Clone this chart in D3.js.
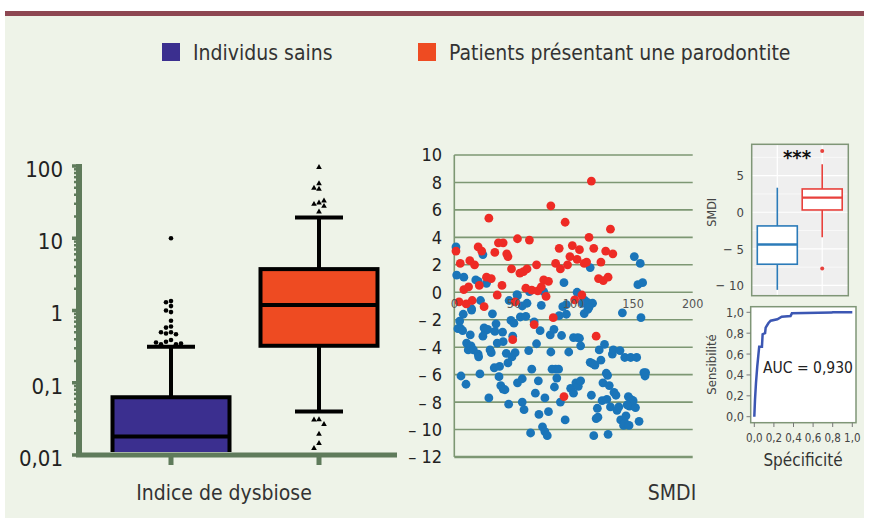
<!DOCTYPE html>
<html>
<head>
<meta charset="utf-8">
<script src="https://cdn.jsdelivr.net/npm/d3@7"></script>
<style>
  body { margin: 0; background: #fff; }
  svg { display: block; }
</style>
</head>
<body>
<div id="graph"></div>
<script>
// ---- data ----
const groups = ["Individus sains", "Patients présentant une parodontite"];
const groupColors = ["#3b2f8f", "#ee4b22"];

// dysbiosis index (log scale) box stats
const dysLow = [0.004, 0.040];
const dysQ1 = [0.004, 0.325];
const dysMedian = [0.018, 1.19];
const dysQ3 = [0.063, 3.74];
const dysHigh = [0.315, 19.4];
const healthyOutliers = [10, 1.35, 1.3, 1.15, 1.0, 0.95, 0.72, 0.6, 0.58, 0.5, 0.48, 0.47, 0.5, 0.39, 0.37, 0.34, 0.34, 0.35, 0.36];
const patientOutliers = [96, 57, 48, 49.5, 31, 29.6, 32.9, 27.8, 23.2, 0.031, 0.0306, 0.0266, 0.0195, 0.0145, 0.0124];
const logTicks = [100, 10, 1, 0.1, 0.01];
const logTickLabels = ["100", "10", "1", "0,1", "0,01"];

// SMDI scatter [x, SMDI]
const healthyPoints = [
  [1.4, 3.3], [2, 1.25], [8, 1.1], [18, 0.9], [20, 0.8], [24, 2.75], [27, 0.65], [92, 0.7], [114, 1.8],
  [151, 2.6], [156, 2.1], [154, 0.55], [158, 0.7], [103, 0], [63, 0.05], [75, 0.05], [53, -0.25],
  [7.5, -1.6], [4.5, -2.1], [5.3, -2.65], [3, -2.65], [7, -2.8], [14.5, -1.2], [14.5, -1.3], [13.4, -3.1],
  [22, -0.6], [10.3, -3.7], [11.7, -4.2], [14, -3.9], [16, -4.2], [20, -4.5], [20.4, -4.7], [5.6, -6.1],
  [9.8, -6.7], [21.5, -5.95], [25, -2.6], [26, -2.8], [28, -2.7], [24, -3.2], [32, -1.57], [30, -4.2],
  [31, -4.4], [35, -2.3], [36, -3.7], [34, -2.85], [40.5, -2.9], [41, -3.6], [33.5, -5.5], [38, -5.4],
  [37.5, -6.15], [39, -6.8], [41, -7.05], [42.5, -7.1], [29, -7.7], [43.6, -4.45], [45, -5.15], [45.6, -8.15],
  [46, -0.6], [47.5, -2.05], [50, -2.25], [49, -3.2], [48.4, -4.7], [51, -4.4], [52.6, -0.17], [55.4, -1.8],
  [57, -1.0], [60, -1.75], [61, -0.8], [53, -6.6], [57, -6.3], [57, -8.0], [58.5, -8.55], [62.4, -4.25],
  [65, -5.6], [64, -10.25], [67, -2.15], [69, -3.75], [70.5, -6.45], [68, -7.35], [72, -2.8], [73, -0.95],
  [71, -8.9], [74, -9.8], [76, -10.15], [78, -10.45], [76, -7.7], [79, -8.7], [80.5, -3.1], [83.6, -2.7],
  [81, -4.35], [82, -5.6], [85, -5.6], [87.5, -5.6], [86, -6.25], [84, -6.9], [89, -8.0], [90, -3.15],
  [91, -1.05], [94, -0.9], [94, -1.6], [88, -1.7], [96, -4.35], [93, -9.3], [97.6, -7.0], [100, -7.35],
  [100, -3.3], [103.5, -3.3], [105, -3.35], [106, -3.9], [102, -6.6], [104, -6.85], [106, -6.45],
  [107.7, -0.8], [109.6, -0.6], [112, -0.75], [116, -0.8], [109, -1.55], [112, -1.25], [113, -1.1],
  [114, -5.1], [116, -5.2], [118, -5.3], [115, -7.5], [117, -10.45], [119, -9.2], [120.5, -9.1], [120, -8.45],
  [121.6, -4.2], [123, -4.95], [124.7, -6.6], [126, -3.8], [124, -7.9], [128, -7.8], [127.5, -5.9],
  [128.6, -6.05], [130, -6.8], [131, -8.35], [129, -10.35], [132.6, -4.5], [133.4, -4.2], [134, -7.3],
  [135.6, -7.5], [136.5, -8.6], [138, -8.35], [139.6, -9.3], [142, -9.7], [143, -9.5], [144, -9.0],
  [139, -4.25], [143, -4.75], [148, -4.75], [153, -4.75], [141, -1.5], [146, -7.6], [148, -7.8], [150, -7.9],
  [147, -8.3], [149, -8.1], [152, -8.4], [145, -8.2], [146.6, -9.7], [155, -9.4], [156.6, -1.85],
  [159, -5.85], [160, -6.1], [160.5, -5.85]
];
const patientPoints = [
  [115, 8.1], [81, 6.3], [29, 5.4], [93, 5.1], [131, 4.6], [113, 4.0], [53, 3.9], [63, 3.8], [37, 3.6],
  [41, 3.6], [1.4, 3.0], [20, 3.3], [23, 3.0], [34, 2.9], [44, 2.8], [45, 2.6], [88, 3.2], [99, 3.4],
  [105, 3.1], [117, 3.2], [127, 3.0], [133, 2.8], [13, 2.3], [17, 2.0], [5, 2.1], [69, 2.0], [85, 2.1],
  [97, 2.6], [95, 2.0], [103, 2.4], [109, 2.1], [111, 2.2], [123, 2.2], [48, 1.7], [55, 1.4], [58, 1.5],
  [61, 1.7], [89, 1.7], [27, 1.1], [31, 1.0], [121, 1.0], [125, 0.85], [129, 1.1], [75, 0.9], [79, 0.8],
  [21, 0.5], [40, 0.5], [8, 0.2], [12, 0.4], [60, 0.3], [65, 0.15], [70, 0.1], [73, 0.4], [36, -0.2],
  [77, -0.3], [107, -0.2], [101, -0.55], [4, -0.7], [10, -0.85], [15, -0.6], [25, -1.05], [51, -0.7],
  [83, -1.85], [67, -2.35], [49, -3.45], [119, -3.2], [92, -7.6]
];
const smdiTicks = [10, 8, 6, 4, 2, 0, -2, -4, -6, -8, -10, -12];
const smdiXTicks = [0, 50, 100, 150, 200];

// SMDI box plot (inset)
const insetLow = [-10.6, -3.4];
const insetQ1 = [-7.1, 0.31];
const insetMedian = [-4.4, 2.0];
const insetQ3 = [-1.87, 3.18];
const insetHigh = [3.35, 6.55];
const insetOutliers = [[], [8.36, -7.7]];
const insetColors = ["#2b7bb9", "#e8413c"];

// ROC curve [1 - specificity, sensitivity]
const rocFpr = [0, 0.007, 0.017, 0.03, 0.04, 0.05, 0.078, 0.085, 0.11, 0.116, 0.143, 0.167, 0.235, 0.28, 0.37, 0.384, 0.79, 0.8, 1];
const rocTpr = [0, 0.16, 0.32, 0.48, 0.575, 0.67, 0.67, 0.79, 0.8, 0.853, 0.895, 0.92, 0.933, 0.958, 0.965, 0.99, 0.997, 1.0, 1.0];
const rocTicks = [0, 0.2, 0.4, 0.6, 0.8, 1];

// ---- drawing ----
const width = 869, height = 518;
const font = "'Liberation Sans Narrow', 'DejaVu Sans Condensed', 'Roboto', sans-serif";
const axisGreen = "#5f7b5b";
const gridGreen = "#7d9773";

const svg = d3.select("#graph").append("svg")
  .attr("width", width).attr("height", height)
  .style("font-family", font);

svg.append("rect").attr("x", 5).attr("y", 15).attr("width", 859).attr("height", 503).attr("fill", "#eef3e8");
svg.append("rect").attr("x", 5).attr("y", 11).attr("width", 859).attr("height", 5).attr("fill", "#8d4752");

// legend
const legend = svg.append("g").selectAll("g").data(groups).join("g")
  .attr("transform", (d, i) => "translate(" + [162, 418][i] + ",43)");
legend.append("rect").attr("width", 18).attr("height", 18).attr("fill", (d, i) => groupColors[i]);
legend.append("text").attr("x", 31).attr("y", 9).attr("dy", "0.36em")
  .attr("font-size", 21).attr("fill", "#333").text(d => d);

// ---- left panel: dysbiosis index ----
const yLog = d3.scaleLog().domain([0.01, 100]).range([455, 166]);
const xGroup = d3.scalePoint().domain(groups).range([171, 319]);
const boxW = 117;

const left = svg.append("g");
left.append("defs").append("clipPath").attr("id", "clipLeft")
  .append("rect").attr("x", 82).attr("y", 150).attr("width", 320).attr("height", 302);

const boxes = left.append("g").attr("clip-path", "url(#clipLeft)")
  .selectAll("g").data(groups).join("g");
boxes.append("line")
  .attr("x1", d => xGroup(d)).attr("x2", d => xGroup(d))
  .attr("y1", (d, i) => yLog(dysHigh[i])).attr("y2", (d, i) => yLog(dysLow[i]))
  .attr("stroke", "#000").attr("stroke-width", 4);
[dysHigh, dysLow].forEach(arr => {
  boxes.append("line")
    .attr("x1", d => xGroup(d) - 24).attr("x2", d => xGroup(d) + 24)
    .attr("y1", (d, i) => yLog(arr[i])).attr("y2", (d, i) => yLog(arr[i]))
    .attr("stroke", "#000").attr("stroke-width", 4);
});
boxes.append("rect")
  .attr("x", d => xGroup(d) - boxW / 2).attr("width", boxW)
  .attr("y", (d, i) => yLog(dysQ3[i]))
  .attr("height", (d, i) => yLog(dysQ1[i]) - yLog(dysQ3[i]))
  .attr("fill", (d, i) => groupColors[i]).attr("stroke", "#000").attr("stroke-width", 4);
boxes.append("line")
  .attr("x1", d => xGroup(d) - boxW / 2).attr("x2", d => xGroup(d) + boxW / 2)
  .attr("y1", (d, i) => yLog(dysMedian[i])).attr("y2", (d, i) => yLog(dysMedian[i]))
  .attr("stroke", "#000").attr("stroke-width", 4);

// outliers, dodged sideways so they do not overlap
function dodge(values, cx) {
  const placed = [];
  const offs = [0, -5, 5, -10, 10, -15, 15];
  return values.map(v => {
    const y = yLog(v);
    let x = cx;
    for (const o of offs) {
      if (placed.every(p => Math.hypot(p[0] - (cx + o), p[1] - y) >= 5)) { x = cx + o; break; }
    }
    placed.push([x, y]);
    return [x, y];
  });
}
left.append("g").selectAll("circle").data(dodge(healthyOutliers, xGroup(groups[0]))).join("circle")
  .attr("cx", d => d[0]).attr("cy", d => d[1]).attr("r", 2.3).attr("fill", "#000");
left.append("g").selectAll("path").data(dodge(patientOutliers, xGroup(groups[1]))).join("path")
  .attr("transform", d => "translate(" + d[0] + "," + d[1] + ")")
  .attr("d", d3.symbol(d3.symbolTriangle, 14)).attr("fill", "#000");

// log axis
const minorTicks = yLog.ticks().filter(t => logTicks.indexOf(t) < 0);
left.append("g").selectAll("line").data(minorTicks).join("line")
  .attr("x1", 74).attr("x2", 80).attr("y1", d => yLog(d)).attr("y2", d => yLog(d))
  .attr("stroke", axisGreen).attr("stroke-width", 2.5);
left.append("g").selectAll("line").data(logTicks).join("line")
  .attr("x1", 72).attr("x2", 80).attr("y1", d => yLog(d)).attr("y2", d => yLog(d))
  .attr("stroke", axisGreen).attr("stroke-width", 3.5);
left.append("line").attr("x1", 79).attr("x2", 79).attr("y1", 164).attr("y2", 457)
  .attr("stroke", axisGreen).attr("stroke-width", 6);
left.append("line").attr("x1", 76).attr("x2", 397).attr("y1", 455).attr("y2", 455)
  .attr("stroke", axisGreen).attr("stroke-width", 5);
left.append("g").selectAll("line").data(groups).join("line")
  .attr("x1", d => xGroup(d)).attr("x2", d => xGroup(d)).attr("y1", 455).attr("y2", 465)
  .attr("stroke", axisGreen).attr("stroke-width", 5);
left.append("g").selectAll("text").data(logTicks).join("text")
  .attr("x", 63).attr("y", d => yLog(d) + 3).attr("dy", "0.36em")
  .attr("text-anchor", "end").attr("font-size", 22).attr("fill", "#222")
  .text((d, i) => logTickLabels[i]);
left.append("text").attr("x", 224).attr("y", 492).attr("dy", "0.36em")
  .attr("text-anchor", "middle").attr("font-size", 21).attr("fill", "#333")
  .text("Indice de dysbiose");

// ---- middle panel: SMDI scatter ----
const xS = d3.scaleLinear().domain([0, 200]).range([454.3, 692.7]);
const yS = d3.scaleLinear().domain([-12, 10]).range([457, 155]);
const mid = svg.append("g");
mid.append("g").selectAll("line").data(smdiTicks).join("line")
  .attr("x1", xS(0)).attr("x2", xS(200)).attr("y1", d => yS(d)).attr("y2", d => yS(d))
  .attr("stroke", gridGreen).attr("stroke-width", d => d === -12 ? 2.5 : 1.6);
mid.append("line").attr("x1", xS(0)).attr("x2", xS(0)).attr("y1", yS(10)).attr("y2", yS(-12))
  .attr("stroke", gridGreen).attr("stroke-width", 1.6);
mid.append("g").selectAll("text").data(smdiTicks).join("text")
  .attr("x", 442).attr("y", d => yS(d)).attr("dy", "0.36em")
  .attr("text-anchor", "end").attr("font-size", 18).attr("fill", "#222")
  .text(d => d < 0 ? "– " + Math.abs(d) : String(d));
mid.append("g").selectAll("circle").data(healthyPoints).join("circle")
  .attr("cx", d => xS(d[0])).attr("cy", d => yS(d[1])).attr("r", 4.4).attr("fill", "#1a75b9");
mid.append("g").selectAll("circle").data(patientPoints).join("circle")
  .attr("cx", d => xS(d[0])).attr("cy", d => yS(d[1])).attr("r", 4.4).attr("fill", "#ee2b25");
mid.append("g").selectAll("text").data(smdiXTicks).join("text")
  .attr("x", d => xS(d)).attr("y", yS(0) + 16)
  .attr("text-anchor", "middle").attr("font-size", 12.5).attr("fill", "#555")
  .text(d => d);
mid.append("text").attr("x", 672).attr("y", 492).attr("dy", "0.36em")
  .attr("text-anchor", "middle").attr("font-size", 21).attr("fill", "#333").text("SMDI");

// ---- top right: SMDI box plot ----
const yB = d3.scaleLinear().domain([-11.4, 9.28]).range([295.7, 144.3]);
const xB = d3.scalePoint().domain(groups).range([777.3, 822.2]);
const inset = svg.append("g");
inset.append("rect").attr("x", 751.7).attr("y", 144.3).attr("width", 96.6).attr("height", 151.4)
  .attr("fill", "#efefef");
inset.append("g").selectAll("line").data([-7.5, -2.5, 2.5, 7.5]).join("line")
  .attr("x1", 751.7).attr("x2", 848.3).attr("y1", d => yB(d)).attr("y2", d => yB(d))
  .attr("stroke", "#fff").attr("stroke-width", 0.6);
inset.append("g").selectAll("line").data([-10, -5, 0, 5]).join("line")
  .attr("x1", 751.7).attr("x2", 848.3).attr("y1", d => yB(d)).attr("y2", d => yB(d))
  .attr("stroke", "#fff").attr("stroke-width", 1.2);
inset.append("g").selectAll("line").data(groups).join("line")
  .attr("x1", d => xB(d)).attr("x2", d => xB(d)).attr("y1", 144.3).attr("y2", 295.7)
  .attr("stroke", "#fff").attr("stroke-width", 1.2);
const ib = inset.append("g").selectAll("g").data(groups).join("g");
ib.append("line")
  .attr("x1", d => xB(d)).attr("x2", d => xB(d))
  .attr("y1", (d, i) => yB(insetHigh[i])).attr("y2", (d, i) => yB(insetLow[i]))
  .attr("stroke", (d, i) => insetColors[i]).attr("stroke-width", 1.6);
ib.append("rect")
  .attr("x", d => xB(d) - 20).attr("width", 40)
  .attr("y", (d, i) => yB(insetQ3[i]))
  .attr("height", (d, i) => yB(insetQ1[i]) - yB(insetQ3[i]))
  .attr("fill", "#fff").attr("stroke", (d, i) => insetColors[i]).attr("stroke-width", 1.6);
ib.append("line")
  .attr("x1", d => xB(d) - 20).attr("x2", d => xB(d) + 20)
  .attr("y1", (d, i) => yB(insetMedian[i])).attr("y2", (d, i) => yB(insetMedian[i]))
  .attr("stroke", (d, i) => insetColors[i]).attr("stroke-width", 2.4);
ib.selectAll("circle").data((d, i) => insetOutliers[i].map(v => [d, v, i])).join("circle")
  .attr("cx", d => xB(d[0])).attr("cy", d => yB(d[1])).attr("r", 2)
  .attr("fill", d => insetColors[d[2]]);
inset.append("rect").attr("x", 751.7).attr("y", 144.3).attr("width", 96.6).attr("height", 151.4)
  .attr("fill", "none").attr("stroke", "#7f9677").attr("stroke-width", 1.5);
inset.append("g").selectAll("text").data([5, 0, -5, -10]).join("text")
  .attr("x", 744).attr("y", d => yB(d)).attr("dy", "0.36em")
  .attr("text-anchor", "end").attr("font-size", 13).attr("fill", "#444")
  .text(d => d < 0 ? "− " + Math.abs(d) : String(d));
inset.append("text").attr("transform", "translate(711," + yB(0) + ") rotate(-90)")
  .attr("text-anchor", "middle").attr("dy", "0.36em").attr("font-size", 12.5).attr("fill", "#444")
  .text("SMDI");
inset.append("text").attr("x", 797).attr("y", 164).attr("text-anchor", "middle")
  .attr("font-size", 20).attr("font-weight", "bold").attr("fill", "#111").text("***");

// ---- bottom right: ROC ----
const xR = d3.scaleLinear().domain([0, 1]).range([754.3, 852.3]);
const yR = d3.scaleLinear().domain([0, 1]).range([416.7, 312.3]);
const roc = svg.append("g");
roc.append("rect").attr("x", 750.7).attr("y", 306.7).attr("width", 105.3).attr("height", 116)
  .attr("fill", "#fff").attr("stroke", "#7f9677").attr("stroke-width", 1.5);
roc.append("path").datum(d3.zip(rocFpr, rocTpr))
  .attr("d", d3.line().x(d => xR(d[0])).y(d => yR(d[1])))
  .attr("fill", "none").attr("stroke", "#3c57b3").attr("stroke-width", 2.5);
roc.append("g").selectAll("line").data(rocTicks).join("line")
  .attr("x1", 746.5).attr("x2", 750.7).attr("y1", d => yR(d)).attr("y2", d => yR(d))
  .attr("stroke", "#777").attr("stroke-width", 1);
roc.append("g").selectAll("line").data(rocTicks).join("line")
  .attr("x1", d => xR(d)).attr("x2", d => xR(d)).attr("y1", 422.7).attr("y2", 427)
  .attr("stroke", "#777").attr("stroke-width", 1);
const commaFmt = d => d3.format(".1f")(d).replace(".", ",");
roc.append("g").selectAll("text").data(rocTicks).join("text")
  .attr("x", 744).attr("y", d => yR(d)).attr("dy", "0.36em")
  .attr("text-anchor", "end").attr("font-size", 12.5).attr("fill", "#444").text(commaFmt);
roc.append("g").selectAll("text").data(rocTicks).join("text")
  .attr("x", d => xR(d)).attr("y", 438).attr("dy", "0.36em")
  .attr("text-anchor", "middle").attr("font-size", 11.5).attr("fill", "#444").text(commaFmt);
roc.append("text").attr("transform", "translate(711,364.5) rotate(-90)")
  .attr("text-anchor", "middle").attr("dy", "0.36em").attr("font-size", 13).attr("fill", "#444")
  .text("Sensibilité");
roc.append("text").attr("x", 803).attr("y", 460).attr("dy", "0.36em")
  .attr("text-anchor", "middle").attr("font-size", 17).attr("fill", "#333").text("Spécificité");
roc.append("text").attr("x", 763).attr("y", 367).attr("dy", "0.36em")
  .attr("font-size", 15.5).attr("fill", "#222").text("AUC = 0,930");
</script>
</body>
</html>
